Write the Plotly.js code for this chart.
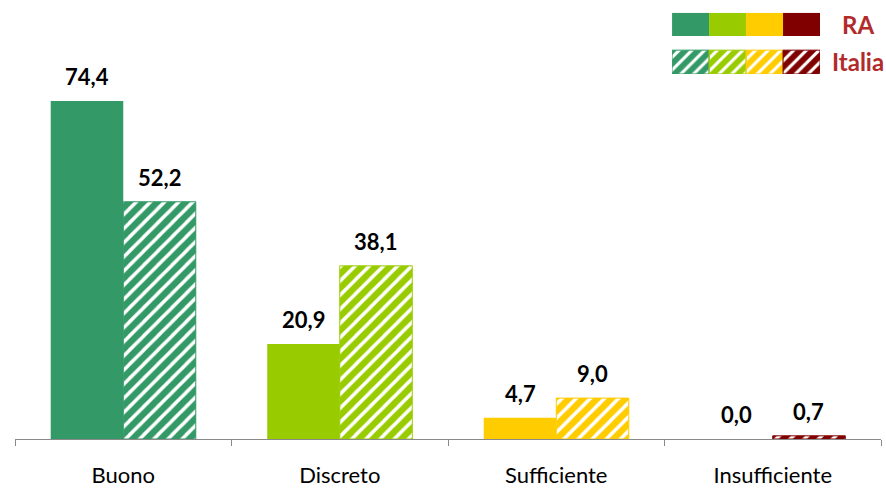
<!DOCTYPE html>
<html>
<head>
<meta charset="utf-8">
<script src="https://cdn.plot.ly/plotly-3.0.1.min.js"></script>
<style>html,body{margin:0;padding:0;background:#fff;}#chart{width:886px;height:489px;}</style>
</head>
<body>
<div id="chart"></div>
<script>
const categories = ['Buono', 'Discreto', 'Sufficiente', 'Insufficiente'];
const raValues = [74.4, 20.9, 4.7, 0.0];
const italiaValues = [52.2, 38.1, 9.0, 0.7];
const colors = ['#339966', '#99CC00', '#FFCC00', '#800000'];
const seriesNames = ['RA', 'Italia'];

const FONT = 'Lato, Calibri, Carlito, "Liberation Sans", sans-serif';
const fmt = v => v.toFixed(1).replace('.', ',');
const hatch = (size, sol) => ({shape: '/', fgcolor: colors, bgcolor: '#ffffff', fillmode: 'replace', size: size, solidity: sol});

const traces = [
  {type: 'bar', name: seriesNames[0], x: categories, y: raValues,
   marker: {color: colors, line: {width: 0}}, hoverinfo: 'skip'},
  {type: 'bar', name: seriesNames[1], x: categories, y: italiaValues,
   marker: {color: colors, line: {width: 1, color: colors}, pattern: hatch(10, 0.65)}, hoverinfo: 'skip'},
  // custom legend swatches
  {type: 'bar', x: [0, 1, 2, 3], y: [0.38, 0.38, 0.38, 0.38], base: 0.62, width: 1, offset: -0.5,
   xaxis: 'x2', yaxis: 'y2', marker: {color: colors, line: {width: 0}}, hoverinfo: 'skip'},
  {type: 'bar', x: [0, 1, 2, 3], y: [0.39, 0.39, 0.39, 0.39], base: 0, width: 1, offset: -0.5,
   xaxis: 'x2', yaxis: 'y2', marker: {color: colors, line: {width: 1, color: colors}, pattern: hatch(9, 0.65)}, hoverinfo: 'skip'}
];

const annotations = [];
categories.forEach((c, i) => {
  [[raValues, -36], [italiaValues, 36]].forEach(([vals, dx]) => {
    annotations.push({x: c, y: vals[i], xref: 'x', yref: 'y', text: fmt(vals[i]),
      showarrow: false, yanchor: 'bottom', xshift: dx, yshift: 9,
      font: {family: FONT, size: 22, color: '#000', weight: 'bold'}});
  });
});
annotations.push({xref: 'paper', yref: 'paper', x: 0.9734, y: 0.954, text: '<b>' + seriesNames[0] + '</b>',
  showarrow: false, xanchor: 'center', yanchor: 'middle', font: {family: FONT, size: 24, color: '#B22B2B'}});
annotations.push({xref: 'paper', yref: 'paper', x: 0.9734, y: 0.869, text: '<b>' + seriesNames[1] + '</b>',
  showarrow: false, xanchor: 'center', yanchor: 'middle', font: {family: FONT, size: 24, color: '#B22B2B'}});

const layout = {
  width: 886, height: 489,
  margin: {l: 15, r: 5, t: 5, b: 50},
  paper_bgcolor: '#fff', plot_bgcolor: '#fff',
  showlegend: false,
  barmode: 'group', bargap: 0.33, bargroupgap: 0,
  font: {family: FONT, color: '#000'},
  xaxis: {type: 'category', showline: true, linecolor: '#898989', linewidth: 1,
    ticks: 'outside', tickson: 'boundaries', ticklen: 6, tickcolor: '#898989',
    tickfont: {family: FONT, size: 22, color: '#000'}, ticklabelstandoff: 17,
    showgrid: false, zeroline: false, fixedrange: true},
  yaxis: {range: [0, 95.5], visible: false, showgrid: false, zeroline: false},
  xaxis2: {domain: [0.7587, 0.9296], range: [-0.5, 3.5], anchor: 'y2', visible: false, showgrid: false, zeroline: false},
  yaxis2: {domain: [0.841, 0.982], range: [0, 1], anchor: 'x2', visible: false, showgrid: false, zeroline: false},
  annotations: annotations
};

Plotly.newPlot('chart', traces, layout, {displayModeBar: false, staticPlot: true});
</script>
</body>
</html>
